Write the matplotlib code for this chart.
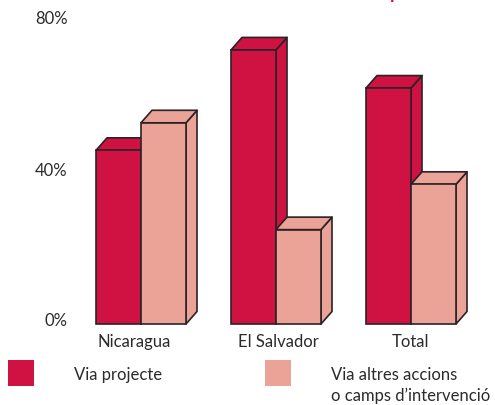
import numpy as np
import matplotlib
matplotlib.use("Agg")
import matplotlib.pyplot as plt
from matplotlib.patches import Polygon, Rectangle
from matplotlib.transforms import ScaledTranslation

# ============================================================
# Data
# ============================================================

countries = ["Nicaragua", "El Salvador", "Total"]
via_projecte = [46, 72.6, 62.5]
via_altres = [53.3, 25, 37]
y_ticks = [0, 40, 80]
y_tick_labels = ["0%", "40%", "80%"]
legend_labels = ["Via projecte", "Via altres accions\no camps d\u2019intervenció"]

# ============================================================
# Style and layout (pixels)
# ============================================================

RED = "#CF1241"
PINK = "#EBA398"
EDGE = "#2A2226"
TEXT = "#2B2B2B"
W, H = 495, 405
AX_LEFT, AX_RIGHT = 85, 470
AX_TOP, AX_BOTTOM = 22, 324
FIRST_CENTER, GROUP_STEP = 141, 135
BAR_W = 45 / GROUP_STEP
DEPTH_X = 11 / GROUP_STEP
DEPTH_Y = 12.5 / ((AX_BOTTOM - AX_TOP) / 80)

plt.rcParams["font.family"] = ["Lato", "DejaVu Sans"]

fig = plt.figure(figsize=(W / 100, H / 100), dpi=100)
ax = fig.add_axes([AX_LEFT / W, 1 - AX_BOTTOM / H,
                   (AX_RIGHT - AX_LEFT) / W, (AX_BOTTOM - AX_TOP) / H])
ax.set_xlim((AX_LEFT - FIRST_CENTER) / GROUP_STEP, (AX_RIGHT - FIRST_CENTER) / GROUP_STEP)
ax.set_ylim(0, 80)


def draw_bar(x0, value, color):
    x1 = x0 + BAR_W
    # side and top first, front face goes over them
    ax.add_patch(Polygon([(x1, 0), (x1 + DEPTH_X, DEPTH_Y),
                          (x1 + DEPTH_X, value + DEPTH_Y), (x1, value)],
                         closed=True, facecolor=color, edgecolor=EDGE,
                         linewidth=1.2, clip_on=False, joinstyle="round"))
    ax.add_patch(Polygon([(x0, value), (x0 + DEPTH_X, value + DEPTH_Y),
                          (x1 + DEPTH_X, value + DEPTH_Y), (x1, value)],
                         closed=True, facecolor=color, edgecolor=EDGE,
                         linewidth=1.2, clip_on=False, joinstyle="round"))
    ax.bar(x0, value, BAR_W, align="edge", color=color, edgecolor=EDGE,
           linewidth=1.2, clip_on=False)


# ============================================================
# Bars
# ============================================================

# drawn left to right so each pink bar covers the side of its red one
for i in range(len(countries)):
    draw_bar(i - BAR_W, via_projecte[i], RED)
    draw_bar(i, via_altres[i], PINK)

# ============================================================
# Axes
# ============================================================

for spine in ax.spines.values():
    spine.set_visible(False)
ax.patch.set_visible(False)
ax.tick_params(length=0)

ax.set_yticks(y_ticks)
ax.set_yticklabels(y_tick_labels, fontsize=12, color=TEXT)
ax.tick_params(axis="y", pad=12.5)
for label in ax.get_yticklabels():
    label.set_transform(label.get_transform()
                        + ScaledTranslation(0, 4 / 100, fig.dpi_scale_trans))

ax.set_xticks(range(len(countries)))
ax.set_xticklabels(countries, fontsize=12, color=TEXT)
ax.tick_params(axis="x", pad=7.5)
for label, shift in zip(ax.get_xticklabels(), [-7, 2, 0]):
    label.set_transform(label.get_transform()
                        + ScaledTranslation(shift / 100, 0, fig.dpi_scale_trans))

# ============================================================
# Legend
# ============================================================

for px, color, label, text_x in zip([8, 265], [RED, PINK], legend_labels, [74, 331]):
    fig.add_artist(Rectangle((px / W, 1 - 386 / H), 26 / W, 26 / H,
                             transform=fig.transFigure, facecolor=color, edgecolor="none"))
    fig.text(text_x / W, 1 - 367 / H, label, fontsize=12, color=TEXT,
             ha="left", va="top", linespacing=1.35)

# descender of the cut off title at the top edge
fig.text(395 / W, 1 + 1 / H, "p", fontsize=13, fontweight="bold", color=RED,
         ha="center", va="baseline")

fig.savefig("out.png", dpi=100)
